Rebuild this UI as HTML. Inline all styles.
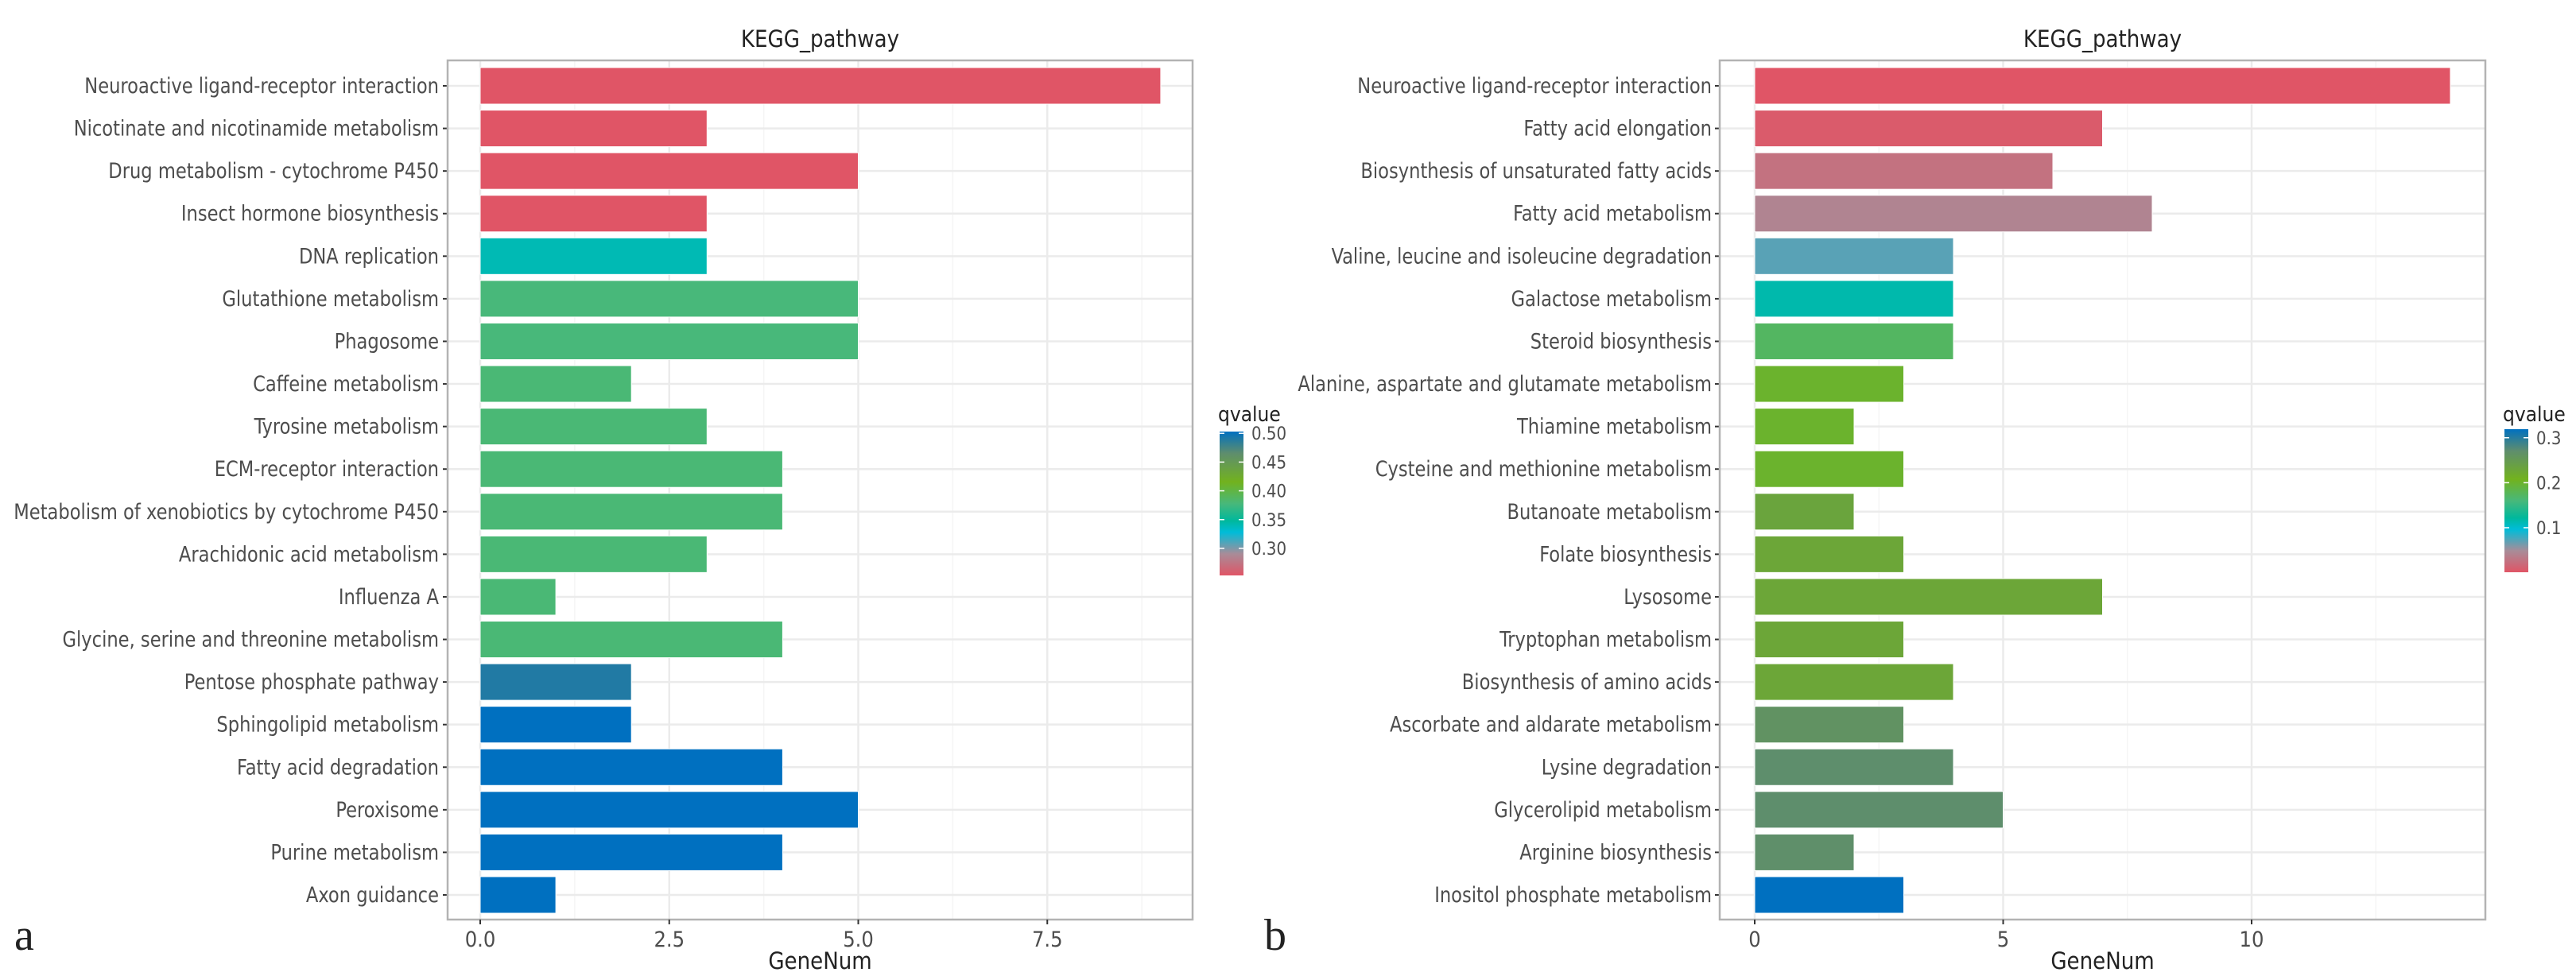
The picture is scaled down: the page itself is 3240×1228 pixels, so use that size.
<!DOCTYPE html>
<html><head><meta charset="utf-8">
<style>
html,body{margin:0;padding:0;background:#fff;}
svg{display:block;}
text{font-family:"Liberation Sans Narrow","DejaVu Sans Condensed","Liberation Sans",sans-serif;}
</style></head>
<body>
<svg id="chart" width="3240" height="1228" viewBox="0 0 3240 1228" xmlns="http://www.w3.org/2000/svg">
<defs>
<linearGradient id="cbar" x1="0" y1="1" x2="0" y2="0">
<stop offset="0" stop-color="#e05566"/>
<stop offset="0.15" stop-color="#a88c98"/>
<stop offset="0.3" stop-color="#00bcd8"/>
<stop offset="0.38" stop-color="#00b89c"/>
<stop offset="0.5" stop-color="#48b87a"/>
<stop offset="0.65" stop-color="#72b21e"/>
<stop offset="0.85" stop-color="#5e8d6e"/>
<stop offset="1" stop-color="#0070c0"/>
</linearGradient>
</defs>
<text x="18" y="1195" font-size="56" style="font-family:'Liberation Serif',serif" fill="#222">a</text>
<text x="1590" y="1195" font-size="56" style="font-family:'Liberation Serif',serif" fill="#222">b</text>
</svg>
<script>
const catsA = ["Neuroactive ligand-receptor interaction","Nicotinate and nicotinamide metabolism","Drug metabolism - cytochrome P450","Insect hormone biosynthesis","DNA replication","Glutathione metabolism","Phagosome","Caffeine metabolism","Tyrosine metabolism","ECM-receptor interaction","Metabolism of xenobiotics by cytochrome P450","Arachidonic acid metabolism","Influenza A","Glycine, serine and threonine metabolism","Pentose phosphate pathway","Sphingolipid metabolism","Fatty acid degradation","Peroxisome","Purine metabolism","Axon guidance"];
const valsA = [9,3,5,3,3,5,5,2,3,4,4,3,1,4,2,2,4,5,4,1];
const qA = [0.253,0.253,0.253,0.253,0.34,0.378,0.378,0.38,0.38,0.38,0.38,0.38,0.38,0.38,0.49,0.503,0.503,0.503,0.503,0.503];
const ticksA = [0,2.5,5,7.5];
const tickLabelsA = ["0.0","2.5","5.0","7.5"];
const qTicksA = [0.30,0.35,0.40,0.45,0.50];
const qTickLabelsA = ["0.30","0.35","0.40","0.45","0.50"];

const catsB = ["Neuroactive ligand-receptor interaction","Fatty acid elongation","Biosynthesis of unsaturated fatty acids","Fatty acid metabolism","Valine, leucine and isoleucine degradation","Galactose metabolism","Steroid biosynthesis","Alanine, aspartate and glutamate metabolism","Thiamine metabolism","Cysteine and methionine metabolism","Butanoate metabolism","Folate biosynthesis","Lysosome","Tryptophan metabolism","Biosynthesis of amino acids","Ascorbate and aldarate metabolism","Lysine degradation","Glycerolipid metabolism","Arginine biosynthesis","Inositol phosphate metabolism"];
const valsB = [14,7,6,8,4,4,4,3,2,3,2,3,7,3,4,3,4,5,2,3];
const qB = [0.001,0.006,0.026,0.042,0.071,0.115,0.173,0.2,0.2,0.2,0.232,0.228,0.228,0.228,0.228,0.262,0.27,0.27,0.268,0.319];
const ticksB = [0,5,10];
const tickLabelsB = ["0","5","10"];
const qTicksB = [0.1,0.2,0.3];
const qTickLabelsB = ["0.1","0.2","0.3"];

const stops=[[0,[224,85,102]],[0.15,[168,140,152]],[0.3,[0,188,216]],[0.38,[0,184,156]],[0.5,[72,184,122]],[0.65,[114,178,30]],[0.85,[94,141,110]],[1,[0,112,192]]];
function cmap(f){f=Math.max(0,Math.min(1,f));for(let i=1;i<stops.length;i++){if(f<=stops[i][0]){const a=stops[i-1],b=stops[i];const t=(f-a[0])/(b[0]-a[0]);const c=a[1].map((v,k)=>Math.round(v+(b[1][k]-v)*t));return `rgb(${c.join(',')})`;}}return 'rgb(0,112,192)';}

const svg=document.getElementById('chart');
const NS='http://www.w3.org/2000/svg';
function mk(tag,attrs,parent){const e=document.createElementNS(NS,tag);for(const k in attrs)e.setAttribute(k,attrs[k]);(parent||svg).appendChild(e);return e;}

function panel(p){
  const g=mk('g',{});
  
  
  const x=v=>p.x0+(v)*p.ppu;
  const n=p.cats.length;
  const y=i=>p.yc0+i*(p.yc1-p.yc0)/(n-1);
  const step=p.ticks[1]-p.ticks[0];
  for(let v=p.ticks[0]-step/2; x(v)<p.right; v+=step/2){
    if(x(v)<=p.left)continue;
    const major=Math.abs(v/step-Math.round(v/step))<1e-6;
    const l=mk('line',{x1:x(v),x2:x(v),y1:p.top,y2:p.bottom,stroke:major?'#ebebeb':'#f5f5f5','stroke-width':major?2.5:1.5},g);
    
    
  }
  for(let i=0;i<n;i++){
    const l=mk('line',{x1:p.left,x2:p.right,y1:y(i),y2:y(i),stroke:'#ebebeb','stroke-width':2.5},g);
    
    
  }
  const bh=46;
  for(let i=0;i<n;i++){
    const r=mk('rect',{x:x(0),y:y(i)-bh/2,width:x(p.vals[i])-x(0),height:bh,fill:cmap((p.q[i]-p.qmin)/(p.qmax-p.qmin)),stroke:'#fff','stroke-width':1},g);
    
    
    const t=mk('text',{x:p.labelRight,y:y(i)+9,'text-anchor':'end','font-size':27,fill:'#4d4d4d'},g);
    t.textContent=p.cats[i];
    
    
    const len=t.getComputedTextLength();
    if(len>0){t.setAttribute('textLength',(len*0.93).toFixed(1));t.setAttribute('lengthAdjust','spacingAndGlyphs');}
    const tk=mk('line',{x1:p.left-6,x2:p.left,y1:y(i),y2:y(i),stroke:'#333','stroke-width':2},g);
    
    
  }
  const b=mk('rect',{x:p.left,y:p.top,width:p.right-p.left,height:p.bottom-p.top,fill:'none',stroke:'#b3b3b3','stroke-width':2.5},g);
  
  
  p.ticks.forEach((v,i)=>{
    const tk=mk('line',{x1:x(v),x2:x(v),y1:p.bottom,y2:p.bottom+6,stroke:'#333','stroke-width':2},g);
    
    
    const t=mk('text',{x:x(v),y:p.bottom+34,'text-anchor':'middle','font-size':27,fill:'#4d4d4d'},g);
    t.textContent=p.tickLabels[i];
    
    
  });
  const xt=mk('text',{x:(p.left+p.right)/2,y:1219,'text-anchor':'middle','font-size':29,fill:'#222'},g);
  xt.textContent='GeneNum';
  
  
  const tt=mk('text',{x:(p.left+p.right)/2,y:59,'text-anchor':'middle','font-size':29,fill:'#222'},g);
  tt.textContent='KEGG_pathway';
  
  
  const lg=mk('g',{},g);
  
  
  const lt=mk('text',{x:p.cbx-2,y:530,'font-size':26,fill:'#222'},lg);
  lt.textContent='qvalue';
  
  
  const cb=mk('rect',{x:p.cbx,y:p.cbTop,width:30,height:p.cbBot-p.cbTop,fill:'url(#cbar)'},lg);
  
  
  const qy=q=>p.cbBot-(q-p.qmin)/(p.qmax-p.qmin)*(p.cbBot-p.cbTop);
  p.qTicks.forEach((q,i)=>{
    mk('line',{x1:p.cbx,x2:p.cbx+6,y1:qy(q),y2:qy(q),stroke:'#fff','stroke-width':1.5},lg);
    mk('line',{x1:p.cbx+24,x2:p.cbx+30,y1:qy(q),y2:qy(q),stroke:'#fff','stroke-width':1.5},lg);
    const t=mk('text',{x:p.cbx+40,y:qy(q)+8,'font-size':22,fill:'#4d4d4d'},lg);
    t.textContent=p.qTickLabels[i];
    
    
  });
}

panel({name:'a',cats:catsA,vals:valsA,q:qA,ticks:ticksA,tickLabels:tickLabelsA,qTicks:qTicksA,qTickLabels:qTickLabelsA,
  left:563,right:1500,top:76,bottom:1157,x0:604,ppu:95.1,yc0:108,yc1:1126,labelRight:552,
  qmin:0.253,qmax:0.503,cbx:1534,cbTop:543,cbBot:724});
panel({name:'b',cats:catsB,vals:valsB,q:qB,ticks:ticksB,tickLabels:tickLabelsB,qTicks:qTicksB,qTickLabels:qTickLabelsB,
  left:2163,right:3126,top:76,bottom:1157,x0:2207,ppu:62.5,yc0:108,yc1:1126,labelRight:2153,
  qmin:0.001,qmax:0.319,cbx:3150,cbTop:540,cbBot:720});
</script>
</body></html>
